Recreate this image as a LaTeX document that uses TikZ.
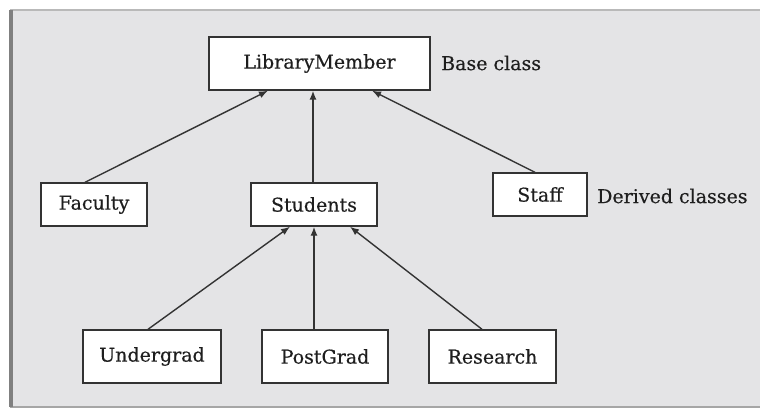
\documentclass[tikz,border=0pt]{standalone}
\usepackage{fontspec}
\setmainfont{DejaVu Serif}[FakeBold=0.35]
\usetikzlibrary{arrows.meta}
\definecolor{panel}{HTML}{E4E4E6}
\definecolor{ink}{HTML}{1E1E1E}
\definecolor{edge}{HTML}{333333}
\begin{document}
\begin{tikzpicture}[x=1pt,y=-1pt,
  cls/.style={draw=edge, line width=1.4pt, fill=white, inner sep=0pt, text=ink,
    font=\fontsize{19}{22}\selectfont},
  lbl/.style={inner sep=0pt, text=ink, anchor=west, font=\fontsize{19}{22}\selectfont},
  arr/.style={draw=edge, line width=1.4pt, -{Latex[length=9pt,width=7pt]}}]
\useasboundingbox (0,0) rectangle (760,409);
\fill[white] (0,0) rectangle (760,409);
\fill[panel] (10,10) rectangle (760,407);
\draw[gray!55, line width=2pt] (10,10) -- (760,10);
\draw[gray!70, line width=2pt] (10,406.5) -- (760,406.5);
\draw[black!50, line width=4pt] (11,10) -- (11,407);
% classes
\node[cls, minimum width=221pt, minimum height=53pt] (lib) at (319.5,63.5) {LibraryMember};
\node[cls, minimum width=106pt, minimum height=43pt] (fac) at (94,204.5) {Faculty};
\node[cls, minimum width=126pt, minimum height=43pt] (stu) at (314,204.5) {Students};
\node[cls, minimum width=94pt, minimum height=43pt] (stf) at (540,194.5) {Staff};
\node[cls, minimum width=138pt, minimum height=53pt] (ug) at (152,356.5) {Undergrad};
\node[cls, minimum width=126pt, minimum height=53pt] (pg) at (325,356.5) {PostGrad};
\node[cls, minimum width=127pt, minimum height=53pt] (rs) at (492.5,356.5) {Research};
% labels
\node[lbl] (base) at (441,63) {Base class};
\node[lbl] (der) at (597,196) {Derived classes};
% connectors
\draw[arr] ([xshift=-9pt]fac.north) -- ([xshift=-51.5pt]lib.south);
\draw[arr] ([xshift=-1pt]stu.north) -- ([xshift=-6.5pt]lib.south);
\draw[arr] ([xshift=-5pt]stf.north) -- ([xshift=52.5pt]lib.south);
\draw[arr] ([xshift=-4pt]ug.north) -- ([xshift=-24pt]stu.south);
\draw[arr] ([xshift=-11pt]pg.north) -- ([xshift=0pt]stu.south);
\draw[arr] ([xshift=-10.5pt]rs.north) -- ([xshift=36pt]stu.south);
\end{tikzpicture}
\end{document}
